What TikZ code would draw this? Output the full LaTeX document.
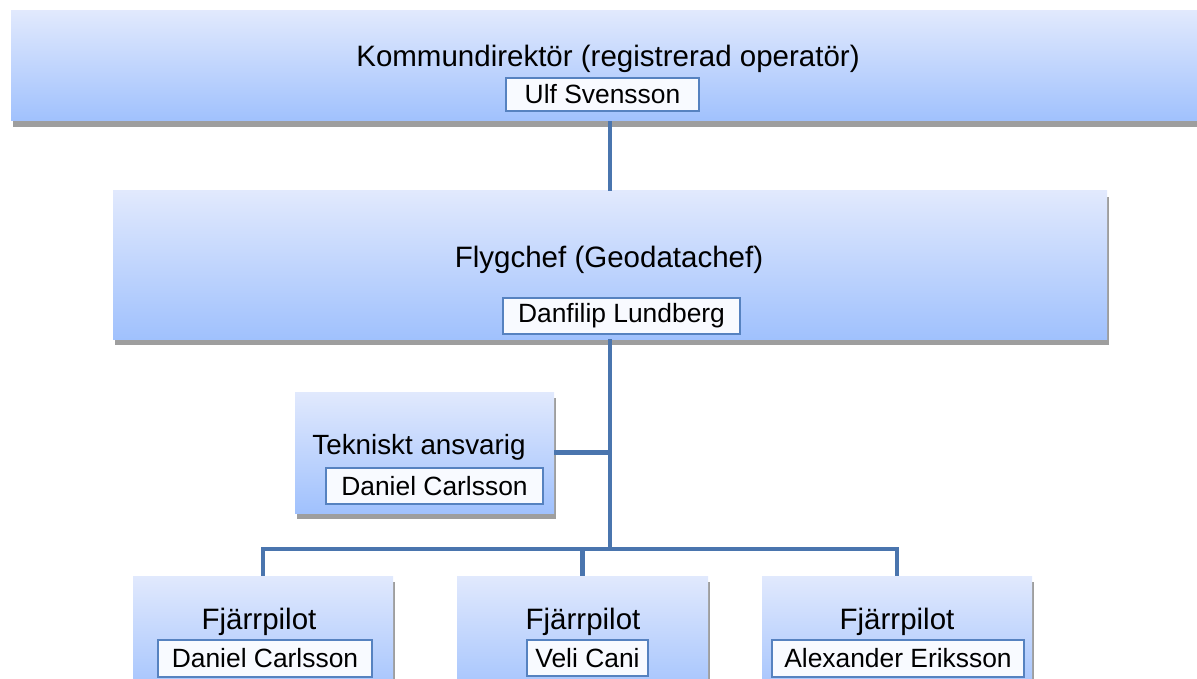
\documentclass[tikz,border=0pt]{standalone}
\usepackage{fontspec}
\setmainfont{Liberation Sans}
\usetikzlibrary{shadows}
\definecolor{boxTop}{RGB}{225,233,253}
\definecolor{boxBottom}{RGB}{160,193,253}
\definecolor{lineBlue}{RGB}{74,117,174}
\definecolor{nameBorder}{RGB}{86,130,192}
\definecolor{nameFill}{RGB}{248,250,255}

\begin{document}
\begin{tikzpicture}
[x=1pt,y=-1pt,
  boxDecorate/.style={shape=rectangle,inner sep=0pt,top color=boxTop,bottom color=boxBottom,
    drop shadow={shadow xshift=2pt,shadow yshift=-6pt,fill=black!38,opacity=1}},
  titleDecorate/.style={anchor=base,inner sep=0pt,font=\fontsize{29.5}{34}\selectfont},
  nameDecorate/.style={shape=rectangle,draw=nameBorder,line width=1.5pt,fill=nameFill,
    inner sep=0pt,font=\fontsize{26.4}{30}\selectfont},
  lineDecorate/.style={draw=lineBlue,line width=4.8pt}]
\useasboundingbox (0,0) rectangle (1197,679);
%% boxes
\foreach \boxname/\x/\y/\w/\h in {
  kd/608/66/1194/110,
  fc/610/265/994/148,
  ta/424.5/452.5/259/121,
  fpa/263/638/260/124,
  fpb/582.5/638/251/124,
  fpc/897/638/270/124}
{
  \node (\boxname) at (\x,\y) [boxDecorate,minimum width=\w pt,minimum height=\h pt] {};
}
%% titles
\node (kdTitle) at (608,67) [titleDecorate] {Kommundirektör (registrerad operatör)};
\node (fcTitle) at (609,267) [titleDecorate] {Flygchef (Geodatachef)};
\node (taTitle) at (419,454) [titleDecorate,font=\fontsize{27.8}{32}\selectfont] {Tekniskt ansvarig};
\foreach \boxname/\x in {fpa/259, fpb/583, fpc/897}
{
  \node (\boxname Title) at (\x,629) [titleDecorate] {Fjärrpilot};
}
%% names
\foreach \boxname/\x/\y/\w/\h/\who in {
  kd/602.5/94.5/193/33/Ulf Svensson,
  fc/621.5/316/237/36/Danfilip Lundberg,
  ta/434.5/486/217/36/Daniel Carlsson,
  fpa/265/658.5/214/37/Daniel Carlsson,
  fpb/587.5/658/121/36/Veli Cani,
  fpc/898/658.5/252/37/Alexander Eriksson}
{
  \node (\boxname Name) at (\x,\y) [nameDecorate,minimum width=\w pt,minimum height=\h pt] {\who};
}
%% lines
\coordinate (bus) at (610,549);
\draw[lineDecorate] (kd.south -| fc.north) -- (fc.north);
\draw[lineDecorate] (fc.south) -- (bus);
\draw[lineDecorate] (ta.east) -- (ta.east -| bus);
\draw[lineDecorate] (fpa.north) |- (bus) -| (fpc.north);
\draw[lineDecorate] (fpb.north) -- (fpb.north |- bus);
\end{tikzpicture}
\end{document}
